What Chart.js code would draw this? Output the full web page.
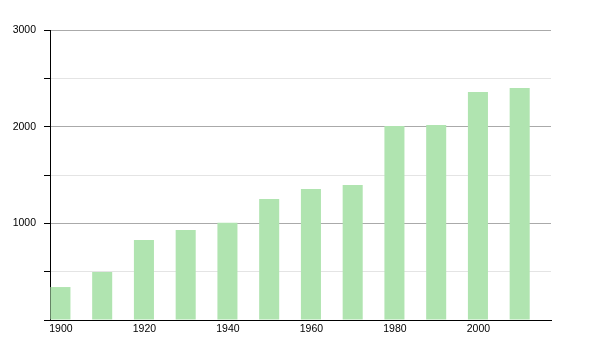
<!DOCTYPE html>
<html>
<head>
<meta charset="utf-8">
<script src="https://cdn.jsdelivr.net/npm/chart.js@4"></script>
<style>
  body { margin: 0; background: #fff; }
  canvas { display: block; }
</style>
</head>
<body>
<canvas id="popChart" width="600" height="350"></canvas>
<script>
// census years and population
const years = ['1900', '1910', '1920', '1930', '1940', '1950', '1960', '1970', '1980', '1990', '2000', '2010'];
const population = [341, 497, 828, 931, 1007, 1252, 1355, 1397, 2007, 2017, 2359, 2400];
const yMax = 3000;
const yStep = 500;

const ctx = document.getElementById('popChart').getContext('2d');
new Chart(ctx, {
    type: 'bar',
    data: {
        labels: years,
        datasets: [
            {
                label: 'Population',
                data: population,
                backgroundColor: '#b0e4b0',
                borderWidth: 0
            },
            {
                // empty partner so each bar sits in the left half of its slot
                label: '',
                data: [],
                backgroundColor: 'rgba(0,0,0,0)'
            }
        ]
    },
    options: {
        responsive: false,
        animation: false,
        layout: { padding: { left: 0, top: 30, right: 49, bottom: 0 } },
        plugins: {
            legend: { display: false },
            tooltip: { enabled: false }
        },
        datasets: {
            bar: { categoryPercentage: 1, barPercentage: 0.96 }
        },
        scales: {
            x: {
                grid: { display: false, drawTicks: false, tickLength: 0 },
                border: { display: true, color: '#000', width: 1 },
                ticks: {
                    autoSkip: false,
                    maxRotation: 0,
                    padding: 3,
                    labelOffset: -10,
                    color: '#000',
                    font: { family: 'Liberation Sans', size: 10.5 },
                    callback: function (value, index) {
                        return index % 2 === 0 ? this.getLabelForValue(value) : '';
                    }
                },
                afterFit: scale => { scale.height = 30; }
            },
            y: {
                min: 0,
                max: yMax,
                border: { display: true, color: '#000', width: 1 },
                grid: {
                    color: c => (c.tick.value % 1000 === 0 ? '#aaaaaa' : '#e4e4e4'),
                    tickColor: '#000',
                    tickLength: 6
                },
                ticks: {
                    stepSize: yStep,
                    padding: 8,
                    color: '#000',
                    font: { family: 'Liberation Sans', size: 10.5 },
                    callback: v => (v % 1000 === 0 && v > 0 ? v : '')
                },
                afterFit: scale => { scale.width = 50; }
            }
        }
    }
});
</script>
</body>
</html>
